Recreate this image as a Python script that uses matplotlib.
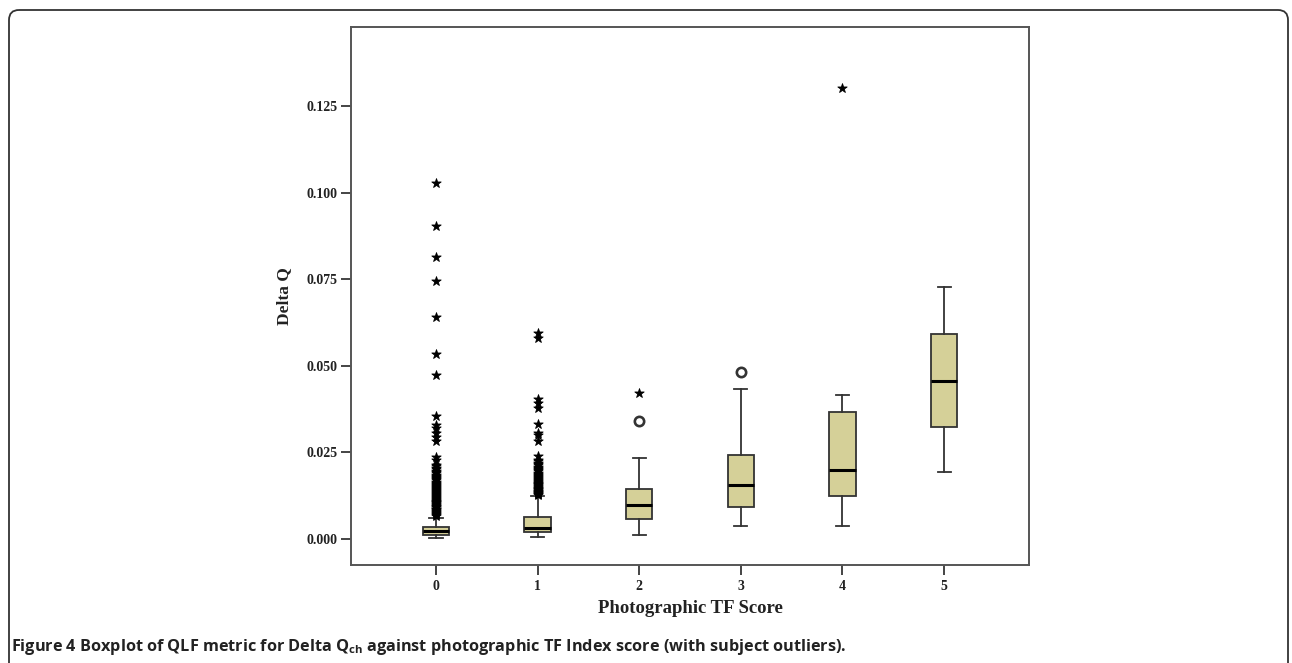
import matplotlib
matplotlib.use("Agg")
import matplotlib.pyplot as plt
import matplotlib.patches as mpatches

# Box statistics, one entry per TF score
scores = [0, 1, 2, 3, 4, 5]
q1 = [0.0012, 0.0019, 0.0059, 0.0093, 0.0125, 0.0324]
medians = [0.0022, 0.0033, 0.0098, 0.0155, 0.0198, 0.0457]
q3 = [0.0036, 0.0064, 0.0144, 0.0242, 0.0367, 0.0592]
whisker_lo = [0.0004, 0.0006, 0.0011, 0.0038, 0.0038, 0.0193]
whisker_hi = [0.0062, 0.0125, 0.0233, 0.0432, 0.0416, 0.0728]

# Outliers: circles (mild) and stars (extreme)
circle_x = [2, 3]
circle_y = [0.0341, 0.0481]

star_y0 = [0.1027, 0.0904, 0.0815, 0.0745, 0.0641, 0.0534, 0.0473, 0.0355,
           0.0329, 0.0320, 0.0307, 0.0295, 0.0283, 0.0238, 0.0228, 0.0214,
           0.0210, 0.0205, 0.0201, 0.0197, 0.0193, 0.0190, 0.0186, 0.0183,
           0.0179, 0.0176, 0.0172, 0.0169, 0.0166, 0.0163, 0.0159, 0.0156,
           0.0153, 0.0150, 0.0147, 0.0144, 0.0141, 0.0138, 0.0135, 0.0132,
           0.0129, 0.0127, 0.0124, 0.0121, 0.0118, 0.0116, 0.0113, 0.0111,
           0.0108, 0.0106, 0.0103, 0.0101, 0.0098, 0.0096, 0.0093, 0.0091,
           0.0088, 0.0086, 0.0083, 0.0081, 0.0078, 0.0076, 0.0073, 0.0070,
           0.0067]
star_x0 = [0] * len(star_y0)
star_y1 = [0.0594, 0.0581, 0.0404, 0.0392, 0.0377, 0.0332, 0.0307, 0.0300,
           0.0284, 0.0241, 0.0228, 0.0224, 0.0220, 0.0216, 0.0213, 0.0209,
           0.0206, 0.0202, 0.0199, 0.0195, 0.0192, 0.0189, 0.0186, 0.0183,
           0.0180, 0.0177, 0.0174, 0.0171, 0.0168, 0.0166, 0.0163, 0.0160,
           0.0158, 0.0155, 0.0153, 0.0150, 0.0148, 0.0145, 0.0143, 0.0141,
           0.0139, 0.0137, 0.0135, 0.0133, 0.0131, 0.0129, 0.0127]
star_x1 = [1] * len(star_y1)
star_x_other = [2, 4]
star_y_other = [0.0421, 0.1303]

yticks = [0.000, 0.025, 0.050, 0.075, 0.100, 0.125]
ytick_labels = ["0.000", "0.025", "0.050", "0.075", "0.100", "0.125"]

BOX_COLOR = "#d5d098"
serif = ["Liberation Serif", "DejaVu Serif"]

fig = plt.figure(figsize=(12.92, 6.63), dpi=100)

# Rounded page frame drawn in pixel units
bg = fig.add_axes([0, 0, 1, 1], zorder=-1)
bg.set_xlim(0, 1292)
bg.set_ylim(663, 0)
bg.axis("off")
bg.add_patch(mpatches.FancyBboxPatch((9, 10), 1279, 680,
                                     boxstyle="round,pad=0,rounding_size=10",
                                     fill=False, edgecolor="#333333", linewidth=1.3))

ax = fig.add_axes([0.2717, 0.1478, 0.5248, 0.8115])

stats = []
for i in range(len(scores)):
    stats.append({"med": medians[i], "q1": q1[i], "q3": q3[i],
                  "whislo": whisker_lo[i], "whishi": whisker_hi[i], "fliers": []})

ax.bxp(stats, positions=scores, widths=0.26, capwidths=0.13, patch_artist=True,
       showfliers=False,
       boxprops=dict(facecolor=BOX_COLOR, edgecolor="#333333", linewidth=1.3),
       medianprops=dict(color="black", linewidth=2.2),
       whiskerprops=dict(color="#333333", linewidth=1.3),
       capprops=dict(color="#333333", linewidth=1.3))

stars_x = star_x0 + star_x1 + star_x_other
stars_y = star_y0 + star_y1 + star_y_other
ax.scatter(stars_x, stars_y, marker="*", s=50, color="black",
           edgecolors="black", linewidths=0.6, zorder=3)
ax.scatter(circle_x, circle_y, marker="o", s=45, facecolors="white",
           edgecolors="#333333", linewidths=1.9, zorder=3)

ax.set_xlim(-0.836, 5.836)
ax.set_ylim(-0.0075, 0.1478)
ax.set_yticks(yticks)
ax.set_yticklabels(ytick_labels)
ax.set_xticks(scores)
ax.set_xticklabels([str(s) for s in scores])

for lab in ax.get_xticklabels() + ax.get_yticklabels():
    lab.set_family(serif)
    lab.set_fontweight("bold")
    lab.set_fontsize(10)
    lab.set_color("#222222")

ax.tick_params(axis="both", direction="out", length=7, width=1.4, color="#444444")
ax.tick_params(axis="y", pad=3)
ax.tick_params(axis="x", pad=4)
for sp in ax.spines.values():
    sp.set_linewidth(1.4)
    sp.set_color("#555555")

ax.set_ylabel("Delta Q", family=serif, fontweight="bold", fontsize=12.5,
              color="#222222", labelpad=10)
ax.set_xlabel("Photographic TF Score", family=serif, fontweight="bold",
              fontsize=13.5, color="#222222", labelpad=5)

fig.text(0.0085, 0.018,
         r"Figure 4 Boxplot of QLF metric for Delta Q$_{\mathregular{ch}}$ against photographic TF Index score (with subject outliers).",
         family=["Open Sans", "DejaVu Sans"], fontweight="bold", fontsize=11.7,
         color="#222222", ha="left", va="baseline")

fig.savefig("out.png", dpi=100)
